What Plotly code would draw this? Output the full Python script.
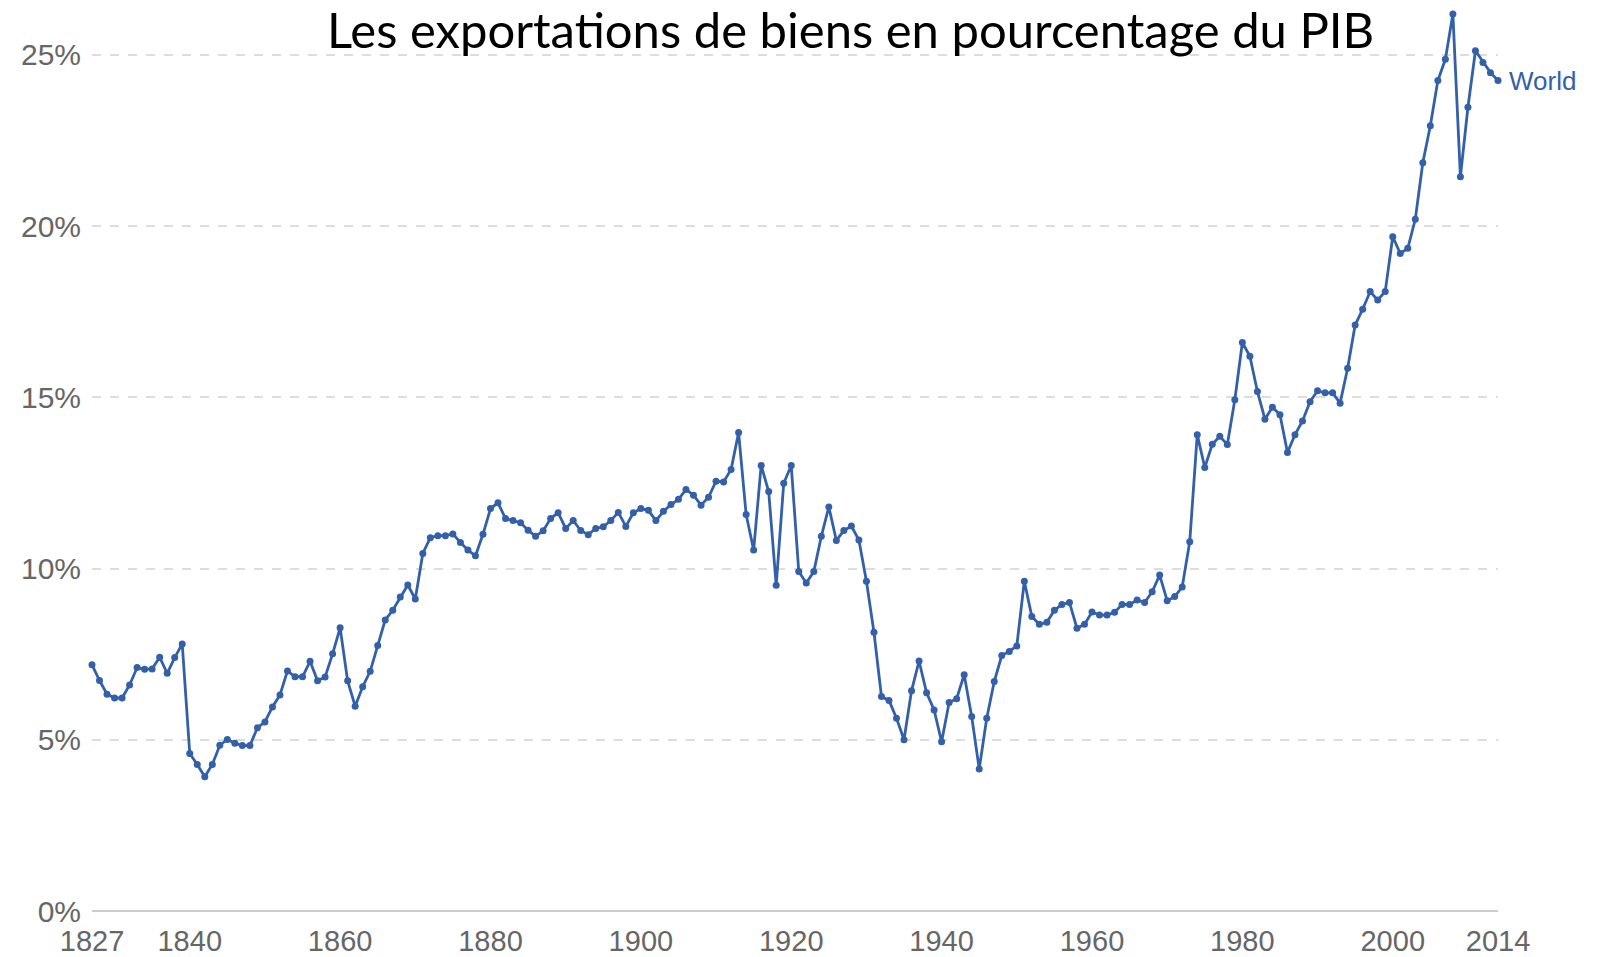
import plotly.graph_objects as go

years = list(range(1827, 2015))
export_share = [
    7.19, 6.73, 6.33,
    6.22, 6.22, 6.60, 7.11, 7.06, 7.07, 7.41, 6.94, 7.40, 7.80,
    4.60, 4.28, 3.92, 4.28, 4.84, 5.01, 4.90, 4.83, 4.83, 5.35,
    5.52, 5.96, 6.31, 7.01, 6.84, 6.84, 7.29, 6.72, 6.83, 7.51,
    8.27, 6.72, 5.98, 6.55, 7.00, 7.75, 8.50, 8.78, 9.17, 9.52,
    9.11, 10.44, 10.90, 10.96, 10.96, 11.01, 10.76, 10.54, 10.37, 11.00,
    11.75, 11.92, 11.46, 11.40, 11.34, 11.12, 10.94, 11.10, 11.46, 11.63,
    11.17, 11.40, 11.11, 10.99, 11.17, 11.22, 11.40, 11.64, 11.23, 11.63,
    11.75, 11.70, 11.40, 11.67, 11.87, 12.02, 12.31, 12.14, 11.85, 12.08,
    12.55, 12.53, 12.89, 13.97, 11.58, 10.54, 13.01, 12.25, 9.51, 12.49,
    13.01, 9.91, 9.58, 9.91, 10.94, 11.80, 10.82, 11.11, 11.24, 10.83,
    9.63, 8.14, 6.26, 6.15, 5.63, 5.00, 6.43, 7.30, 6.37, 5.87,
    4.94, 6.09, 6.20, 6.90, 5.68, 4.15, 5.63, 6.70, 7.46, 7.58,
    7.74, 9.63, 8.60, 8.37, 8.43, 8.78, 8.95, 9.01, 8.26, 8.37,
    8.73, 8.64, 8.64, 8.72, 8.95, 8.95, 9.08, 9.01, 9.32, 9.81,
    9.06, 9.18, 9.46, 10.78, 13.91, 12.95, 13.63, 13.86, 13.62, 14.93,
    16.60, 16.20, 15.17, 14.36, 14.71, 14.49, 13.39, 13.91, 14.31, 14.87,
    15.19, 15.13, 15.13, 14.83, 15.85, 17.11, 17.57, 18.09, 17.84, 18.09,
    19.69, 19.20, 19.35, 20.20, 21.85, 22.93, 24.25, 24.87, 26.19, 21.44,
    23.47, 25.12, 24.78, 24.48, 24.25,
]
assert len(years) == len(export_share), (len(years), len(export_share))

x_ticks = [1827, 1840, 1860, 1880, 1900, 1920, 1940, 1960, 1980, 2000, 2014]
y_ticks = [0, 5, 10, 15, 20, 25]
y_tick_text = ["0%", "5%", "10%", "15%", "20%", "25%"]
series_name = "World"
title_text = "Les exportations de biens en pourcentage du PIB"

BLUE = "#3360a9"

fig = go.Figure()
fig.add_trace(go.Scatter(
    x=years, y=export_share, mode="lines+markers", name=series_name,
    line=dict(color=BLUE, width=2.8),
    marker=dict(color=BLUE, size=7),
    cliponaxis=False, showlegend=False,
))

fig.update_layout(
    width=1606, height=957,
    margin=dict(l=92, r=108, t=0, b=43.5),
    plot_bgcolor="white", paper_bgcolor="white",
    font=dict(family="Liberation Sans, Arial, sans-serif", color="#666666", size=29),
)
fig.update_xaxes(
    range=[1827, 2014], tickvals=x_ticks, showgrid=False, zeroline=False,
    showline=False, ticks="", tickfont=dict(size=29, color="#666666"),
    ticklabelstandoff=10,
)
fig.update_yaxes(
    range=[0, 913.5 / 34.34], tickvals=y_ticks, ticktext=y_tick_text,
    showgrid=True, gridcolor="#dddddd", griddash="dash", gridwidth=1.5,
    zeroline=True, zerolinecolor="#cccccc", zerolinewidth=2,
    showline=False, ticks="", tickfont=dict(size=30, color="#666666"),
    ticklabelstandoff=10,
)

fig.add_annotation(
    x=years[-1], y=export_share[-1], xref="x", yref="y",
    text=series_name, showarrow=False, xanchor="left", yanchor="middle",
    xshift=9, font=dict(family="Liberation Sans, Arial, sans-serif", size=26, color=BLUE),
)
fig.add_annotation(
    x=(850 - 92) / 1406, y=(913.5 - 29) / 34.34, xref="paper", yref="y",
    text=title_text, showarrow=False, xanchor="center", yanchor="middle",
    font=dict(family="Lato, sans-serif", size=49, color="black"),
)

fig.write_html(
    "out.html",
    config={"displayModeBar": False},
    post_script="document.body.style.margin='0';document.body.style.overflow='hidden';",
)
